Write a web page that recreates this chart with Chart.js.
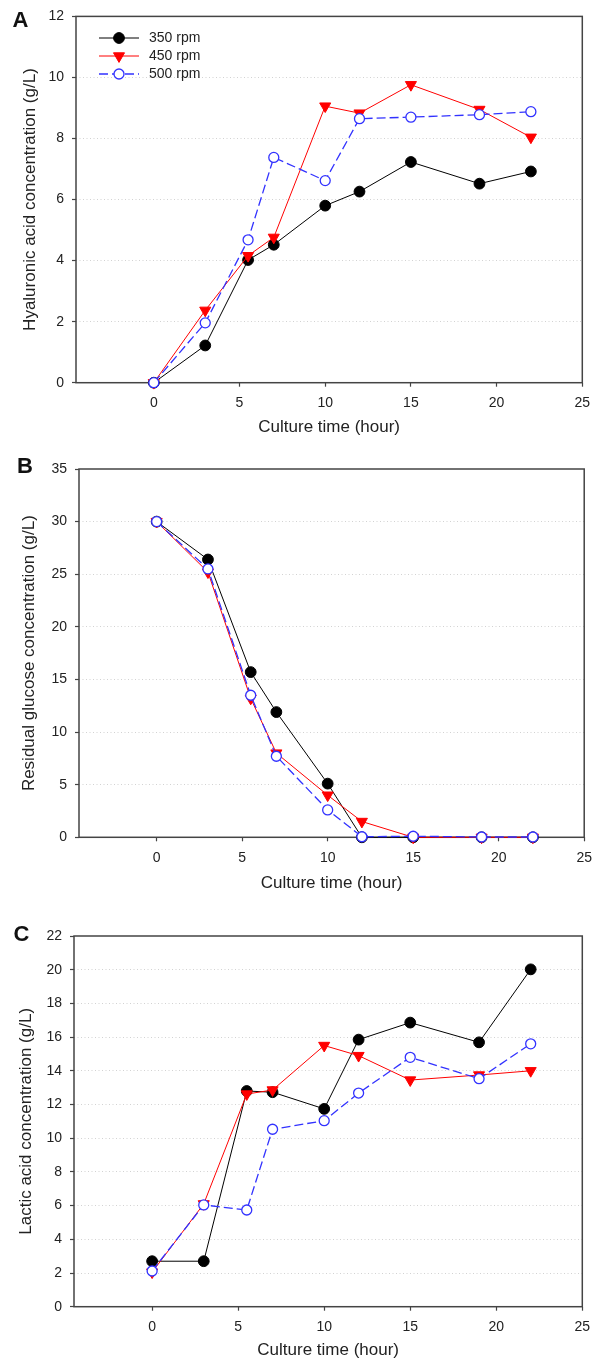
<!DOCTYPE html>
<html>
<head>
<meta charset="utf-8">
<script src="https://cdn.jsdelivr.net/npm/chart.js@4.4.0/dist/chart.umd.min.js"></script>
<style>
  body { margin: 0; background: #fff; width: 600px; height: 1360px; position: relative; overflow: hidden; }
  canvas { position: absolute; left: 0; }
</style>
</head>
<body>
<canvas id="panelA" width="600" height="440" style="top:0px"></canvas>
<canvas id="panelB" width="600" height="460" style="top:440px"></canvas>
<canvas id="panelC" width="600" height="470" style="top:895px"></canvas>
<script>
// sampling times (hour)
const timeHours = [0, 3, 5.5, 7, 10, 12, 15, 19, 22];
const seriesLabels = ['350 rpm', '450 rpm', '500 rpm'];
const xTicks = [0, 5, 10, 15, 20, 25];

// A - hyaluronic acid (g/L)
const hyaluronic350 = [0, 1.22, 4.02, 4.52, 5.80, 6.26, 7.23, 6.52, 6.92];
const hyaluronic450 = [0, 2.37, 4.16, 4.76, 9.06, 8.83, 9.76, 8.95, 8.04];
const hyaluronic500 = [0, 1.96, 4.68, 7.38, 6.62, 8.65, 8.70, 8.78, 8.88];
const yTicksA = [0, 2, 4, 6, 8, 10, 12];

// B - residual glucose (g/L)
const glucose350 = [30, 26.4, 15.7, 11.9, 5.1, 0, 0, 0, 0];
const glucose450 = [30, 25.2, 13.2, 8.0, 4.0, 1.5, 0, 0, 0];
const glucose500 = [30, 25.5, 13.5, 7.7, 2.6, 0.05, 0.1, 0.03, 0.03];
const yTicksB = [0, 5, 10, 15, 20, 25, 30, 35];

// C - lactic acid (g/L)
const lactic350 = [2.7, 2.7, 12.8, 12.73, 11.74, 15.85, 16.86, 15.69, 20.02];
const lactic450 = [2.05, 6.1, 12.62, 12.86, 15.5, 14.9, 13.45, 13.75, 14.0];
const lactic500 = [2.12, 6.04, 5.74, 10.53, 11.04, 12.68, 14.8, 13.53, 15.6];
const yTicksC = [0, 2, 4, 6, 8, 10, 12, 14, 16, 18, 20, 22];

const FONT = "'Liberation Sans', Arial, Helvetica, sans-serif";
Chart.defaults.font.family = FONT;
Chart.defaults.color = '#222';

const styles = [
  { line: '#000000', fill: '#000000', stroke: '#000000', shape: 'circle', r: 5.4, rot: 0, w: 1, pw: 1, dash: [] },
  { line: '#ff0000', fill: '#ff0000', stroke: '#ff0000', shape: 'triangle', r: 6.4, rot: 180, w: 1, pw: 1, dash: [] },
  { line: '#3232ff', fill: '#ffffff', stroke: '#3232ff', shape: 'circle', r: 5, rot: 0, w: 1.3, pw: 1.3, dash: [9, 4] }
];

const frame = {
  id: 'frame',
  beforeDatasetsDraw(chart) {
    const { ctx, chartArea: a } = chart;
    ctx.save();
    ctx.strokeStyle = '#444';
    ctx.lineWidth = 1.5;
    ctx.strokeRect(a.left, a.top, a.right - a.left, a.bottom - a.top);
    ctx.restore();
  }
};

const panelTag = {
  id: 'panelTag',
  afterDraw(chart, args, opts) {
    const ctx = chart.ctx;
    ctx.save();
    ctx.font = 'bold 22px ' + FONT;
    ctx.fillStyle = '#111';
    ctx.textBaseline = 'alphabetic';
    ctx.fillText(opts.text, opts.x, opts.y);
    ctx.restore();
  }
};

const insetLegend = {
  id: 'insetLegend',
  afterDraw(chart, args, opts) {
    if (!opts.show) return;
    const ctx = chart.ctx;
    chart.data.datasets.forEach((ds, i) => {
      const y = opts.y0 + i * opts.dy;
      ctx.save();
      ctx.strokeStyle = ds.borderColor;
      ctx.lineWidth = ds.borderWidth;
      ctx.setLineDash(ds.borderDash || []);
      ctx.beginPath();
      ctx.moveTo(opts.x0, y);
      ctx.lineTo(opts.x1, y);
      ctx.stroke();
      ctx.setLineDash([]);
      ctx.fillStyle = ds.pointBackgroundColor;
      ctx.strokeStyle = ds.pointBorderColor;
      ctx.lineWidth = ds.pointBorderWidth;
      Chart.helpers.drawPoint(ctx, {
        pointStyle: ds.pointStyle, rotation: ds.pointRotation,
        radius: ds.pointRadius, borderWidth: ds.pointBorderWidth
      }, (opts.x0 + opts.x1) / 2, y);
      ctx.fillStyle = '#222';
      ctx.font = '14px ' + FONT;
      ctx.textBaseline = 'middle';
      ctx.fillText(ds.label, opts.tx, y);
      ctx.restore();
    });
  }
};

function makeSet(i, values) {
  const s = styles[i];
  return {
    label: seriesLabels[i],
    data: timeHours.map((t, k) => ({ x: t, y: values[k] })),
    borderColor: s.line, borderWidth: s.w, borderDash: s.dash,
    pointStyle: s.shape, pointRotation: s.rot, pointRadius: s.r,
    pointBackgroundColor: s.fill, pointBorderColor: s.stroke, pointBorderWidth: s.pw,
    tension: 0, clip: false, order: 3 - i
  };
}

function buildPanel(p) {
  const canvas = document.getElementById(p.id);
  const H = canvas.height;
  const top = p.area.top - p.offset;
  const bottom = p.area.bottom - p.offset;
  const xH = p.titleGap + 10.2;
  const yMax = p.yTicks[p.yTicks.length - 1];

  new Chart(canvas, {
    type: 'line',
    data: { datasets: p.series.map((v, i) => makeSet(i, v)) },
    options: {
      responsive: false,
      animation: false,
      events: [],
      layout: { padding: { left: 0, top: top, right: 600 - p.area.right, bottom: H - bottom - xH } },
      plugins: {
        legend: { display: false },
        tooltip: { enabled: false },
        panelTag: { text: p.tag, x: p.tagX, y: p.tagY - p.offset },
        insetLegend: { show: p.legend, x0: 99, x1: 139, tx: 149, y0: 38 - p.offset, dy: 18 }
      },
      scales: {
        x: {
          type: 'linear', min: -4.54, max: 25,
          afterBuildTicks: s => { s.ticks = xTicks.map(v => ({ value: v })); },
          afterFit: s => { s.height = xH; },
          ticks: { font: { size: 14 }, color: '#222', padding: 8, autoSkip: false, maxRotation: 0 },
          grid: { drawOnChartArea: false, drawTicks: true, tickLength: 4, tickColor: '#444', tickWidth: 1.2 },
          border: { display: false },
          title: { display: true, text: 'Culture time (hour)', font: { size: 17 }, color: '#222', padding: { top: 0, bottom: 0 } }
        },
        y: {
          type: 'linear', min: 0, max: yMax,
          afterBuildTicks: s => { s.ticks = p.yTicks.map(v => ({ value: v })); },
          afterFit: s => { s.width = p.area.left; },
          ticks: { font: { size: 14 }, color: '#222', padding: 8, autoSkip: false },
          grid: {
            color: c => (c.tick && c.tick.value > 0 && c.tick.value < yMax) ? '#d2d2d2' : 'rgba(0,0,0,0)',
            lineWidth: 1, drawTicks: true, tickLength: 4, tickColor: '#444', tickWidth: 1.2, tickBorderDash: []
          },
          border: { display: false, dash: [1, 2.5] },
          title: { display: true, text: p.yTitle, font: { size: 17 }, color: '#222', padding: { top: p.yTitleX - 10.2, bottom: 0 } }
        }
      }
    },
    plugins: [frame, panelTag, insetLegend]
  });
}

buildPanel({
  id: 'panelA', offset: 0, tag: 'A', tagX: 12.5, tagY: 26.7, legend: true,
  area: { left: 76, top: 14.7, right: 582.3, bottom: 382.7 }, titleGap: 45, yTitleX: 30,
  yTitle: 'Hyaluronic acid concentration (g/L)', yTicks: yTicksA,
  series: [hyaluronic350, hyaluronic450, hyaluronic500]
});
buildPanel({
  id: 'panelB', offset: 440, tag: 'B', tagX: 17, tagY: 473.3, legend: false,
  area: { left: 79, top: 469, right: 586.5, bottom: 837.3 }, titleGap: 46, yTitleX: 29,
  yTitle: 'Residual glucose concentration (g/L)', yTicks: yTicksB,
  series: [glucose350, glucose450, glucose500]
});
buildPanel({
  id: 'panelC', offset: 895, tag: 'C', tagX: 13.5, tagY: 941, legend: false,
  area: { left: 74, top: 936, right: 582.3, bottom: 1306.7 }, titleGap: 43.3, yTitleX: 26,
  yTitle: 'Lactic acid concentration (g/L)', yTicks: yTicksC,
  series: [lactic350, lactic450, lactic500]
});
</script>
</body>
</html>
